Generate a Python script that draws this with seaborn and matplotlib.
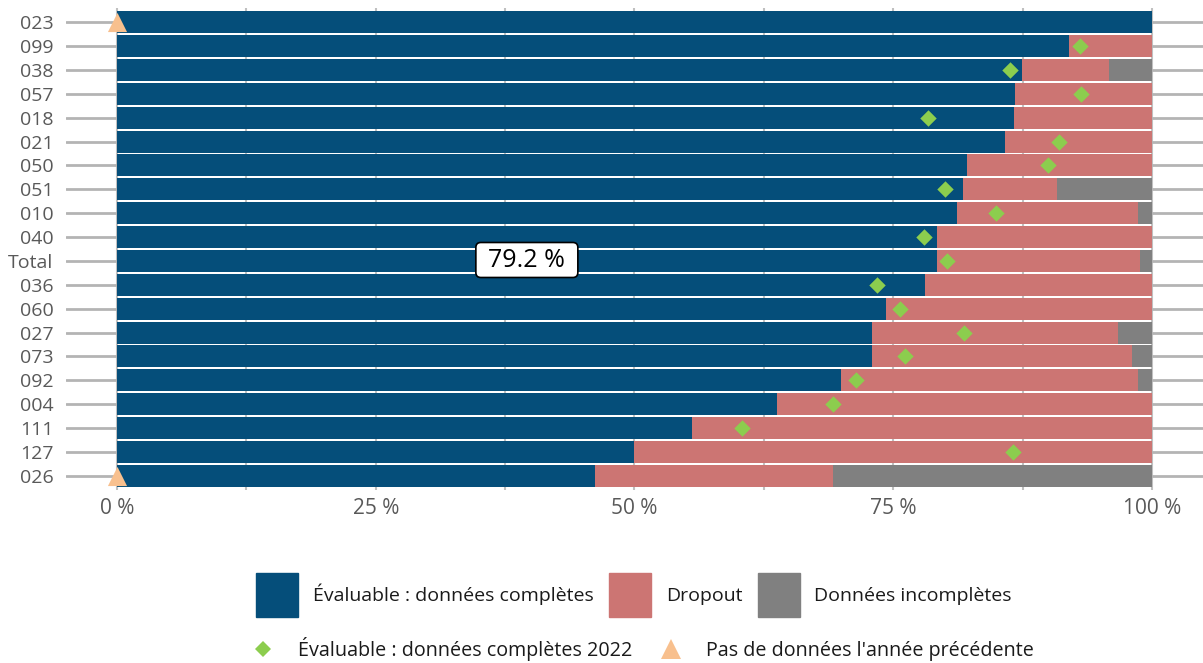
import numpy as np
import pandas as pd
import seaborn as sns
import matplotlib.pyplot as plt
from matplotlib.patches import Patch, FancyBboxPatch
from matplotlib.lines import Line2D

# Données (parts en %)
categories = ['023', '099', '038', '057', '018', '021', '050', '051', '010', '040',
              'Total', '036', '060', '027', '073', '092', '004', '111', '127', '026']
evaluable = [100.0, 92.0, 87.4, 86.8, 86.7, 85.8, 82.1, 81.7, 81.2, 79.2,
             79.2, 78.1, 74.3, 72.9, 72.9, 70.0, 63.8, 55.6, 50.0, 46.2]
dropout = [0.0, 8.0, 8.4, 13.2, 13.3, 14.2, 17.9, 9.1, 17.4, 20.8,
           19.6, 21.9, 25.7, 23.8, 25.2, 28.6, 36.2, 44.4, 50.0, 23.0]
incomplete = [0.0, 0.0, 4.2, 0.0, 0.0, 0.0, 0.0, 9.2, 1.4, 0.0,
              1.2, 0.0, 0.0, 3.3, 1.9, 1.4, 0.0, 0.0, 0.0, 30.8]
evaluable_2022 = [np.nan, 93.0, 86.3, 93.1, 78.4, 91.0, 90.0, 80.0, 84.9, 78.0,
                  80.2, 73.4, 75.7, 81.8, 76.1, 71.4, 69.2, 60.4, 86.6, np.nan]
no_previous = ['023', '026']
total_label = '79.2 %'

c_blue = '#054e7a'
c_red = '#cc7573'
c_gray = '#808080'
c_green = '#8ccd4e'
c_orange = '#f8c08e'

df = pd.DataFrame({'cat': categories, 'ev': evaluable, 'dr': dropout,
                   'inc': incomplete, 'ev22': evaluable_2022})
df['end_dr'] = df['ev'] + df['dr']
df['end_inc'] = df['end_dr'] + df['inc']

sns.set_style('white')
plt.rcParams['font.family'] = ['Open Sans', 'DejaVu Sans']

fig = plt.figure(figsize=(12.03, 6.63), dpi=100)
ax = fig.add_axes([66 / 1203, 1 - 490 / 663, 1 - 66 / 1203, 482 / 663])

sns.barplot(data=df, y='cat', x='end_inc', orient='h', color=c_gray, width=0.92,
            linewidth=0, saturation=1, ax=ax, zorder=2)
sns.barplot(data=df, y='cat', x='end_dr', orient='h', color=c_red, width=0.92,
            linewidth=0, saturation=1, ax=ax, zorder=2)
sns.barplot(data=df, y='cat', x='ev', orient='h', color=c_blue, width=0.92,
            linewidth=0, saturation=1, ax=ax, zorder=2)

sns.scatterplot(data=df, y='cat', x='ev22', marker='D', color=c_green, s=70,
                linewidth=0, ax=ax, zorder=4, legend=False)
tri = df[df['cat'].isin(no_previous)]
sns.scatterplot(x=np.zeros(len(tri)), y=tri['cat'], marker='^', color=c_orange, s=190,
                linewidth=0, ax=ax, zorder=5, legend=False, clip_on=False)

px = 1035 / 100          # pixels par %
py = 482 / 20.18         # pixels par catégorie

# étiquette du total
i_total = categories.index('Total')
xc = evaluable[i_total] / 2
bw, bh = 102 / px, 35 / py
box = FancyBboxPatch((xc - bw / 2, i_total - bh / 2 - 0.04), bw, bh,
                     boxstyle='round,pad=0,rounding_size=%f' % (5 / px),
                     mutation_aspect=px / py, fc='white', ec='black', lw=1.2, zorder=6)
ax.add_patch(box)
ax.text(xc, i_total, total_label, ha='center', va='center', fontsize=18,
        color='black', zorder=7)

ax.set_xlim(-51 / px, 100 + 51 / px)
ax.set_ylim(19.59, -0.59)
ax.set_xticks([0, 25, 50, 75, 100])
ax.set_xticklabels(['0 %', '25 %', '50 %', '75 %', '100 %'])
ax.set_xticks([12.5, 37.5, 62.5, 87.5], minor=True)
ax.grid(True, axis='x', which='both', color='#c0c0c0', lw=1.5, zorder=0)
ax.grid(True, axis='y', color='#b4b4b4', lw=2, zorder=0)
ax.set_axisbelow(True)
ax.tick_params(axis='both', which='both', length=0, labelsize=14, colors='#595959')
ax.tick_params(axis='x', labelsize=15, pad=6)
ax.tick_params(axis='y', pad=9)
ax.set_xlabel('')
ax.set_ylabel('')
for s in ax.spines.values():
    s.set_visible(False)

# légendes
h1 = [Patch(color=c_blue, label='Évaluable : données complètes'),
      Patch(color=c_red, label='Dropout'),
      Patch(color=c_gray, label='Données incomplètes')]
leg1 = fig.legend(handles=h1, loc='center', bbox_to_anchor=(0.527, 1 - 595 / 663), ncol=3,
                  frameon=False, fontsize=14, handlelength=2.16, handleheight=3.1,
                  handletextpad=0.75, columnspacing=0.8)
h2 = [Line2D([], [], ls='none', marker='D', color=c_green, markersize=8, markeredgewidth=0,
             label='Évaluable : données complètes 2022'),
      Line2D([], [], ls='none', marker='^', color=c_orange, markersize=14, markeredgewidth=0,
             label="Pas de données l'année précédente")]
leg2 = fig.legend(handles=h2, loc='center', bbox_to_anchor=(0.531, 1 - 649 / 663), ncol=2,
                  frameon=False, fontsize=14.2, handlelength=2.0, handletextpad=0.78,
                  columnspacing=0.95)
for t in leg1.get_texts() + leg2.get_texts():
    t.set_color('#1a1a1a')

fig.savefig('out.png', dpi=100)
